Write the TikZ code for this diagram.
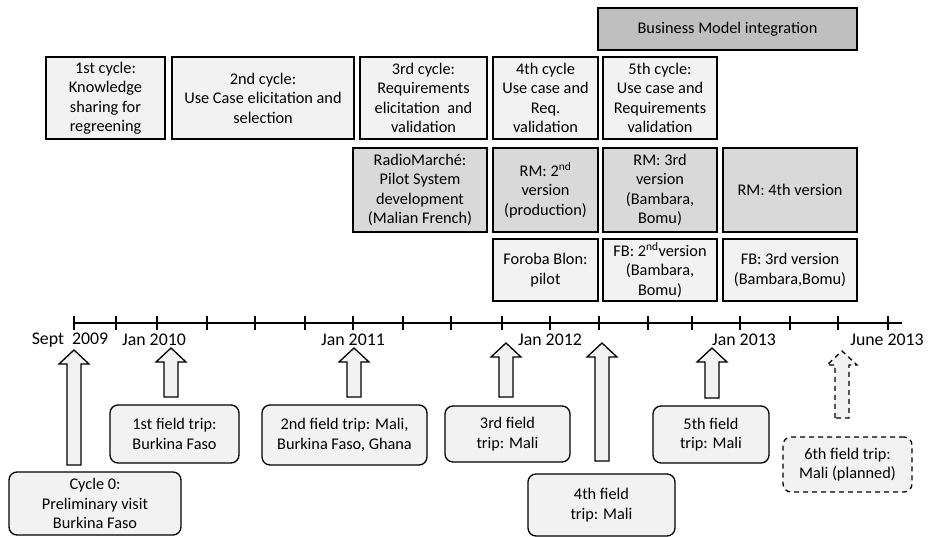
\documentclass[tikz,border=0pt]{standalone}
\usepackage{fontspec}
\setmainfont{Carlito}
\usetikzlibrary{calc}
\definecolor{lightfill}{HTML}{F2F2F2}
\definecolor{midfill}{HTML}{D9D9D9}
\definecolor{darkfill}{HTML}{BFBFBF}
\tikzset{
  box/.style={draw=black, line width=1.3pt, fill=lightfill, inner sep=0pt, align=center,
    font=\fontsize{16.3}{19.5}\selectfont},
  rmbox/.style={box, fill=midfill},
  bmbox/.style={box, fill=darkfill},
  tripbox/.style={box, rounded corners=8pt},
  datelabel/.style={inner sep=0pt, font=\fontsize{17.8}{20}\selectfont},
  blockarr/.style={draw=black, line width=1.3pt, fill=lightfill, line join=miter},
  axisline/.style={line width=1.8pt},
}
\newcommand{\blockarrow}[3][]{%
  \draw[blockarr,#1] let \p1=(#2), \p2=(#3) in
    (\x2-7pt,\y2) -- (\x2-7pt,\y1-14pt) -- (\x2-15pt,\y1-14pt) -- (\x1,\y1)
    -- (\x2+15pt,\y1-14pt) -- (\x2+7pt,\y1-14pt) -- (\x2+7pt,\y2) -- cycle;}
\newcommand{\boxat}[6]{% style, name, x1, x2, y1, y2 ... text in next group
  \node[#1, minimum width=#4pt-#3pt, minimum height=#6pt-#5pt] (#2) at ({(#3+#4)/2},{(#5+#6)/2})}
\begin{document}
\begin{tikzpicture}[x=1pt,y=-1pt]
\useasboundingbox (0,0) rectangle (930,537);

% cycles
\boxat{bmbox}{bm}{598}{857}{8}{50} {Business Model integration};
\boxat{box}{c1}{46}{165}{57}{139} {1st cycle:\\Knowledge\\sharing for\\regreening};
\boxat{box}{c2}{172}{354}{57}{139} {2nd cycle:\\Use Case elicitation and\\selection};
\boxat{box}{c3}{360}{487}{57}{139} {3rd cycle:\\Requirements\\elicitation\ \ and\\validation};
\boxat{box}{c4}{493}{598}{57}{139} {4th cycle\\Use case and\\Req.\\validation};
\boxat{box}{c5}{603}{717}{57}{139} {5th cycle:\\Use case and\\Requirements\\validation};

% RadioMarche row
\boxat{rmbox}{rm1}{353}{487}{148}{232} {RadioMarché:\\Pilot System\\development\\(Malian French)};
\boxat{rmbox}{rm2}{493}{598}{148}{232} {RM: 2\textsuperscript{nd}\\version\\(production)};
\boxat{rmbox}{rm3}{603}{717}{148}{232} {RM: 3rd\\version\\(Bambara,\\Bomu)};
\boxat{rmbox}{rm4}{723}{857}{148}{232} {RM: 4th version};

% Foroba Blon row
\boxat{box}{fb1}{493}{598}{239}{301} {Foroba Blon:\\pilot};
\boxat{box}{fb2}{603}{717}{239}{301} {FB: 2\textsuperscript{nd}version\\(Bambara,\\Bomu)};
\boxat{box}{fb3}{723}{857}{239}{301} {FB: 3rd version\\(Bambara,Bomu)};

% timeline
\coordinate (tlstart) at (74,323);
\coordinate (tlend) at (902,323);
\draw[axisline] (tlstart) -- (tlend);
\foreach \tx in {74,116,157,207,255,305,353,403,451,502,550,599,648,692,740,790,838,888}
  \draw[axisline] (\tx,316) -- (\tx,330);

\node[datelabel] (d0) at (70,340) {Sept\ \ 2009};
\node[datelabel] (d1) at (154,340) {Jan 2010};
\node[datelabel] (d2) at (353,340) {Jan 2011};
\node[datelabel] (d3) at (550,340) {Jan 2012};
\node[datelabel] (d4) at (744,340) {Jan 2013};
\node[datelabel] (d5) at (887,340) {June 2013};

% field trips
\boxat{tripbox}{b0}{9}{181}{472}{535} {Cycle 0:\\Preliminary visit\\Burkina Faso};
\boxat{tripbox}{b1}{110}{239}{405}{463} {1st field trip:\\Burkina Faso};
\boxat{tripbox}{b2}{262}{427}{405}{465} {2nd field trip: Mali,\\Burkina Faso, Ghana};
\boxat{tripbox}{b3}{445}{570}{406}{462} {3rd field\\trip: Mali};
\boxat{tripbox}{b4}{528}{675}{474}{536} {4th field\\trip: Mali};
\boxat{tripbox}{b5}{653}{769}{406}{463} {5th field\\trip: Mali};
\boxat{tripbox,dashed,dash pattern=on 5pt off 4pt}{b6}{783}{912}{437}{492} {6th field trip:\\Mali (planned)};

% arrow coordinates
\coordinate (t0) at (74,350);  \coordinate (s0) at (74,465);
\coordinate (t1) at (171,348); \coordinate (s1) at (171,397);
\coordinate (t2) at (354,348); \coordinate (s2) at (354,397);
\coordinate (t3) at (506,343); \coordinate (s3) at (506,397);
\coordinate (t4) at (602,343); \coordinate (s4) at (602,461);
\coordinate (t5) at (712,348); \coordinate (s5) at (712,398);
\coordinate (t6) at (842,351); \coordinate (s6) at (842,418);

\blockarrow{t0}{s0}
\blockarrow{t1}{s1}
\blockarrow{t2}{s2}
\blockarrow{t3}{s3}
\blockarrow{t4}{s4}
\blockarrow{t5}{s5}
\blockarrow[dashed,dash pattern=on 5pt off 4pt]{t6}{s6}
\end{tikzpicture}
\end{document}
